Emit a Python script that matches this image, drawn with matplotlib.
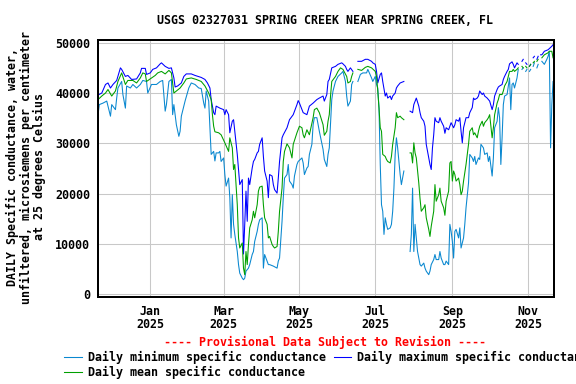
import matplotlib
matplotlib.use("Agg")
import matplotlib.pyplot as plt
import numpy as np
import pandas as pd

nan = np.nan
BASE = pd.Timestamp("2025-01-01")  # day 0 of the offsets below

# daily minimum specific conductance (day offset from 2025-01-01, uS/cm)
min_days = [-42, -41, -38, -35, -32, -31, -28, -27, -26, -23, -22, -20, -19, -16, -14, -11, -8, -6, -3, -2,
            1, 5, 8, 10, 12, 13, 15, 17, 18, 19, 21, 23, 24, 25, 28, 31, 33, 36, 39, 41, 43, 44, 45, 47, 48,
            49, 51, 52, 53, 55, 56, 57, 59, 60, 61, 63, 64, 65, 66, 67, 68, 70, 71, 72, 74, 75, 76, 77, 79,
            80, 82, 83, 84, 86, 87, 88, 90, 91, 92, 94, 95, 96, 99, 102, 103, 104, 106, 107, 108, 110, 111,
            112, 114, 115, 116, 118, 119, 122, 123, 124, 126, 127, 128, 130, 131, 132, 134, 135, 136, 139,
            140, 142, 143, 144, 145, 146, 147, 149, 151, 154, 155, 157, 158, 159, 161, 162, 163, 165, 167,
            169, 171, 174, 175, 178, 179, 181, 182, 183, 184, 185, 186, 187, 188, 189, 190, 191, 193, 194,
            195, 196, 197, 198, 199, 201, 202, 204, 206, 209, 210, 211, 212, 213, 214, 215, 217, 218, 220,
            221, 222, 224, 225, 226, 228, 229, 230, 232, 233, 234, 236, 237, 238, 240, 241, 242, 243, 244,
            245, 246, 248, 249, 250, 252, 253, 254, 256, 257, 259, 260, 261, 262, 264, 265, 266, 268, 269,
            271, 272, 273, 275, 276, 277, 279, 280, 281, 282, 283, 284, 285, 287, 288, 289, 290, 291, 292,
            293, 295, 296, 297, 299, 300, 301, 302, 303, 304, 305, 306, 307, 308, 309, 310, 311, 312, 313,
            315, 317, 319, 320, 321, 322, 323, 324]
min_vals = [35700, 37700, 38000, 38400, 35400, 37700, 36700, 39000, 41000, 42300, 39700, 37000, 41400, 41000,
            41700, 41000, 41700, 42500, 42300, 40000, 41700, 41700, 42300, 42500, 36400, 37700, 42300, 42700,
            35700, 37700, 33700, 31400, 32400, 35400, 38400, 41000, 42000, 41700, 41000, 40900, 38000, 37000,
            40400, 38400, 33000, 27800, 28400, 26500, 28100, 28100, 28400, 26400, 27100, 23800, 21500, 23100,
            19200, 11200, 19800, 13900, 11900, 8500, 5900, 4200, 3200, 2900, 3200, 4600, 5200, 5900, 7900,
            8500, 10500, 12500, 13900, 14800, 15200, 5200, 7900, 6600, 5900, 5900, 5600, 5200, 6600, 7200,
            14500, 19200, 23100, 23800, 25800, 22500, 21800, 21100, 23500, 25800, 26400, 27100, 26100, 23800,
            25100, 25400, 27800, 29800, 33700, 35100, 35100, 33700, 32400, 28800, 26800, 25400, 27800, 29100,
            34100, 38700, 40400, 42300, 43300, 44000, 44300, 42300, 39400, 37400, 38400, 41700, 42300, nan,
            42300, 43700, 44000, 44000, 44700, 43000, 42300, 43300, 41700, 41000, 37000, 25800, 17800, 16500,
            11900, 15200, 13900, 12900, 13200, 13900, 16500, 21100, 27800, 31100, 29100, 23800, 21800, 24500,
            nan, 8500, 11900, 21100, 8500, 13900, 11200, 8500, 5900, 5600, 6200, 5200, 4600, 3900, 4600, 5900,
            6900, 7900, 6900, 6900, 8500, 7200, 5900, 5900, 6600, 5900, 13900, 12500, 10500, 7200, 12500,
            12900, 11200, 13200, 9200, 11200, 13900, 17200, 22100, 27800, 27100, 26400, 27400, 25800, 27100,
            26800, 29800, 29100, 27800, 28100, 26400, 27400, 23500, 27100, 33100, 34400, 37100, 35100, 25800,
            31100, 37700, 39400, 39700, 41400, 43000, 36700, 41700, 42000, 41000, 43000, 44700, nan, 44700,
            45000, nan, 44300, 44700, nan, 44300, 44700, nan, 45300, 46000, nan, 45000, 45700, nan, 46300,
            45700, 46700, 47300, 48300, 29100, 37700, 42300]

# daily maximum specific conductance
max_days = [-42, -39, -36, -34, -32, -30, -27, -24, -23, -20, -18, -15, -11, -8, -7, -4, -3, 0, 2, 5, 8, 9,
            12, 15, 17, 19, 20, 22, 25, 27, 29, 33, 36, 41, 44, 46, 48, 49, 51, 52, 53, 56, 59, 60, 61, 63,
            64, 66, 67, 68, 70, 71, 72, 74, 75, 76, 77, 78, 79, 80, 82, 83, 84, 86, 87, 88, 90, 91, 92, 94,
            95, 96, 98, 99, 100, 102, 103, 104, 106, 107, 110, 112, 115, 118, 119, 120, 123, 126, 128, 131,
            134, 136, 139, 140, 142, 143, 144, 146, 149, 151, 154, 155, 157, 158, 159, 161, 163, 165, 167,
            170, 173, 175, 178, 179, 181, 182, 183, 185, 186, 187, 189, 190, 191, 193, 194, 195, 197, 198,
            199, 201, 204, 206, 209, 211, 212, 214, 216, 217, 218, 220, 221, 222, 224, 225, 226, 227, 228,
            229, 230, 232, 233, 234, 236, 237, 238, 240, 241, 242, 244, 245, 246, 248, 249, 250, 251, 252,
            254, 256, 257, 259, 260, 261, 263, 264, 265, 267, 268, 269, 271, 272, 273, 275, 276, 277, 279,
            280, 281, 283, 284, 285, 287, 288, 289, 291, 292, 293, 295, 296, 297, 299, 300, 301, 302, 303,
            304, 305, 306, 307, 308, 309, 310, 311, 312, 313, 314, 315, 317, 320, 323, 324]
max_vals = [39600, 40000, 41700, 42000, 41000, 41700, 42500, 45000, 44700, 43300, 43500, 42700, 42800, 44000,
            44900, 44900, 43700, 44000, 44700, 45000, 45800, 46000, 45300, 44900, 45000, 43000, 41200, 41400,
            42000, 43300, 43800, 43800, 43500, 43100, 42700, 42000, 41000, 38700, 36100, 35700, 37400, 37000,
            36700, 35700, 36700, 35700, 32100, 34400, 34700, 32400, 27800, 24800, 21800, 22800, 8000, 13900,
            20500, 14500, 23100, 21800, 25100, 26400, 26800, 28100, 28400, 29800, 31100, 27400, 24500, 22500,
            19200, 23800, 23500, 21800, 20800, 20100, 23100, 26400, 31100, 31700, 33100, 34700, 35700, 37700,
            38500, 38000, 36100, 35700, 37400, 38000, 38700, 39000, 39400, 38400, 39700, 42300, 42700, 45000,
            45300, 45700, 46000, 45800, 45300, 44700, 44300, 45000, 44300, nan, 46300, 46300, 46700, 46700,
            46300, 46000, 45700, 44300, 42000, 43700, 44000, 42300, 39400, 40000, 39000, 39400, 38700, 39400,
            40000, 41000, 41400, 42000, 42300, nan, 36400, 36100, 37700, 39000, 37400, 36100, 35100, 34400,
            33400, 29800, 27100, 25800, 24800, 29100, 31700, 35100, 34400, 34100, 35100, 34400, 33400, 32000,
            33100, 32700, 33400, 34100, 33100, 33700, 34700, 34400, 35100, 32400, 30100, 33100, 35100, 35100,
            36100, 37100, 39000, 38700, 39000, 39400, 40400, 39700, 40000, 39400, 39000, 38700, 38400, 36700,
            37700, 39400, 40700, 41200, 41400, 41700, 42700, 43300, 44300, 44700, 45800, 46200, 45700, 45000,
            46000, 45700, nan, 46300, 46700, nan, 46000, 45700, nan, 45300, 45700, nan, 47000, 47300, nan,
            46700, 47300, nan, 47600, 47600, 48300, 48600, 49300, 49600]

# daily mean specific conductance
mean_days = [-42, -39, -36, -34, -31, -28, -26, -23, -20, -18, -14, -11, -8, -6, -4, -3, 1, 4, 6, 9, 12, 15,
             17, 19, 21, 24, 27, 29, 33, 37, 41, 44, 47, 49, 50, 51, 52, 55, 57, 60, 63, 64, 66, 67, 68, 70,
             71, 72, 74, 75, 76, 77, 78, 79, 80, 82, 83, 84, 86, 87, 88, 90, 91, 92, 94, 95, 96, 98, 99, 100,
             102, 103, 104, 106, 107, 108, 110, 112, 114, 115, 118, 120, 122, 123, 124, 126, 128, 131, 132,
             134, 136, 139, 140, 142, 143, 144, 145, 146, 149, 151, 153, 155, 158, 159, 161, 162, 163, 165,
             167, 170, 173, 175, 178, 181, 182, 183, 184, 185, 186, 187, 189, 190, 191, 193, 194, 195, 197,
             198, 199, 201, 202, 204, 206, 209, 210, 211, 212, 213, 214, 216, 217, 218, 220, 221, 222, 224,
             225, 226, 228, 229, 230, 232, 233, 234, 236, 237, 238, 240, 241, 242, 243, 244, 245, 246, 248,
             249, 250, 251, 252, 254, 255, 256, 257, 259, 260, 261, 263, 264, 265, 267, 268, 269, 271, 272,
             273, 275, 276, 277, 279, 280, 281, 283, 284, 285, 287, 288, 289, 291, 292, 293, 295, 296, 297,
             299, 300, 301, 302, 303, 304, 305, 306, 307, 308, 309, 310, 311, 312, 313, 315, 317, 320, 321,
             323, 324]
mean_vals = [38700, 39400, 40000, 40700, 39400, 40400, 42300, 44000, 41700, 42500, 42500, 42000, 43000, 44000,
             43800, 42300, 43000, 43500, 44000, 44300, 43800, 44500, 44000, 40000, 40400, 41000, 42000, 42800,
             43000, 42700, 42300, 41400, 40000, 38700, 35700, 33400, 32300, 32100, 31700, 30100, 28400, 31100,
             29100, 24800, 25800, 17800, 11200, 9200, 10200, 5200, 3900, 8500, 5900, 9900, 13200, 14800, 16500,
             15200, 17800, 20500, 21300, 21500, 17800, 15200, 13900, 11200, 11500, 9900, 9500, 9200, 9500,
             12500, 16500, 21100, 26400, 28400, 29900, 29100, 27100, 29800, 32100, 33400, 33100, 31700, 31100,
             32700, 31700, 35100, 36700, 37000, 36100, 33700, 31600, 32400, 34400, 35700, 39400, 42300, 43300,
             44300, 45000, 44700, 43300, 42000, 42300, 43300, 44000, nan, 44700, 44500, 45100, 45300, 45000,
             44300, 43300, 40400, 37000, 33100, 32400, 27800, 27400, 26800, 26400, 26100, 27400, 29800, 33100,
             36100, 35100, 35400, 35100, 34700, nan, 28100, 28100, 26100, 30100, 28100, 27100, 22100, 19000,
             16500, 17200, 17800, 15200, 12900, 11500, 13500, 16500, 21800, 18500, 19800, 21100, 18500, 17200,
             15700, 18500, 20500, 26100, 26400, 22500, 24500, 23800, 22500, 23100, 21800, 19800, 20500, 22500,
             25800, 27800, 29800, 32400, 33100, 31700, 32100, 31100, 32400, 33400, 34400, 33400, 34100, 34700,
             35100, 35700, 31100, 33100, 35700, 38000, 38700, 39700, 39700, 40400, 41400, 42300, 43300, 44300,
             44300, 44700, 44300, 44700, 45000, nan, 45300, 45000, nan, 45300, 45000, nan, 45300, 45700, nan,
             46000, 46300, nan, 46300, 46700, nan, 47000, 47600, 48000, 48300, 48300, 47000]


def to_dates(days):
    return BASE + pd.to_timedelta(days, unit="D")


FS = 8.7
font = dict(family="DejaVu Sans Mono", weight="bold", size=FS)

fig = plt.figure(figsize=(6, 4), dpi=96)
ax = fig.add_axes([98.3 / 576, 1 - 297 / 384, (554.3 - 98.3) / 576, (297 - 39.7) / 384])

l_min, = ax.plot(to_dates(min_days), min_vals, color="#0a88d0", lw=0.8)
l_max, = ax.plot(to_dates(max_days), max_vals, color="#0000ff", lw=0.8)
l_mean, = ax.plot(to_dates(mean_days), mean_vals, color="#00a000", lw=0.8)

ax.set_xlim(pd.Timestamp("2024-11-20 05:00"), pd.Timestamp("2025-11-22"))
ax.set_ylim(-540, 50600)

tick_dates = pd.to_datetime(["2025-01-01", "2025-03-01", "2025-05-01", "2025-07-01", "2025-09-01", "2025-11-01"])
ax.set_xticks(tick_dates)
ax.set_xticklabels([d.strftime("%b") + "\n" + d.strftime("%Y") for d in tick_dates], linespacing=1.0, **font)
ax.set_yticks(range(0, 50001, 10000))
ax.set_yticklabels([str(v) for v in range(0, 50001, 10000)], **font)
ax.tick_params(axis="x", length=0, pad=6.0)
ax.tick_params(axis="y", length=0, pad=6.2)

ax.grid(True, color="#c8c8c8", lw=0.8)
ax.set_axisbelow(True)
for s in ax.spines.values():
    s.set_linewidth(1.5)
    s.set_color("black")

fig.text(325 / 576, 1 - 20 / 384, "USGS 02327031 SPRING CREEK NEAR SPRING CREEK, FL",
         ha="center", va="center", **font)
fig.text(26 / 576, 1 - 167 / 384,
         "DAILY Specific conductance, water,\nunfiltered, microsiemens per centimeter\nat 25 degrees Celsius",
         rotation=90, ha="center", va="center", multialignment="center", linespacing=1.0, **font)
fig.text(325.5 / 576, 1 - 342.7 / 384, "---- Provisional Data Subject to Revision ----",
         ha="center", va="center", color="red", **font)

fig.legend([l_min, l_mean, l_max],
           ["Daily minimum specific conductance", "Daily mean specific conductance",
            "Daily maximum specific conductance"],
           loc="upper left", bbox_to_anchor=(64.3 / 576, 1 - 350.7 / 384), ncol=2, frameon=False,
           borderpad=0, borderaxespad=0, handlelength=1.5, handletextpad=0.5, columnspacing=0.69,
           labelspacing=0.2, prop=dict(family="DejaVu Sans Mono", weight="bold", size=FS))

fig.savefig("out.png", dpi=96)
